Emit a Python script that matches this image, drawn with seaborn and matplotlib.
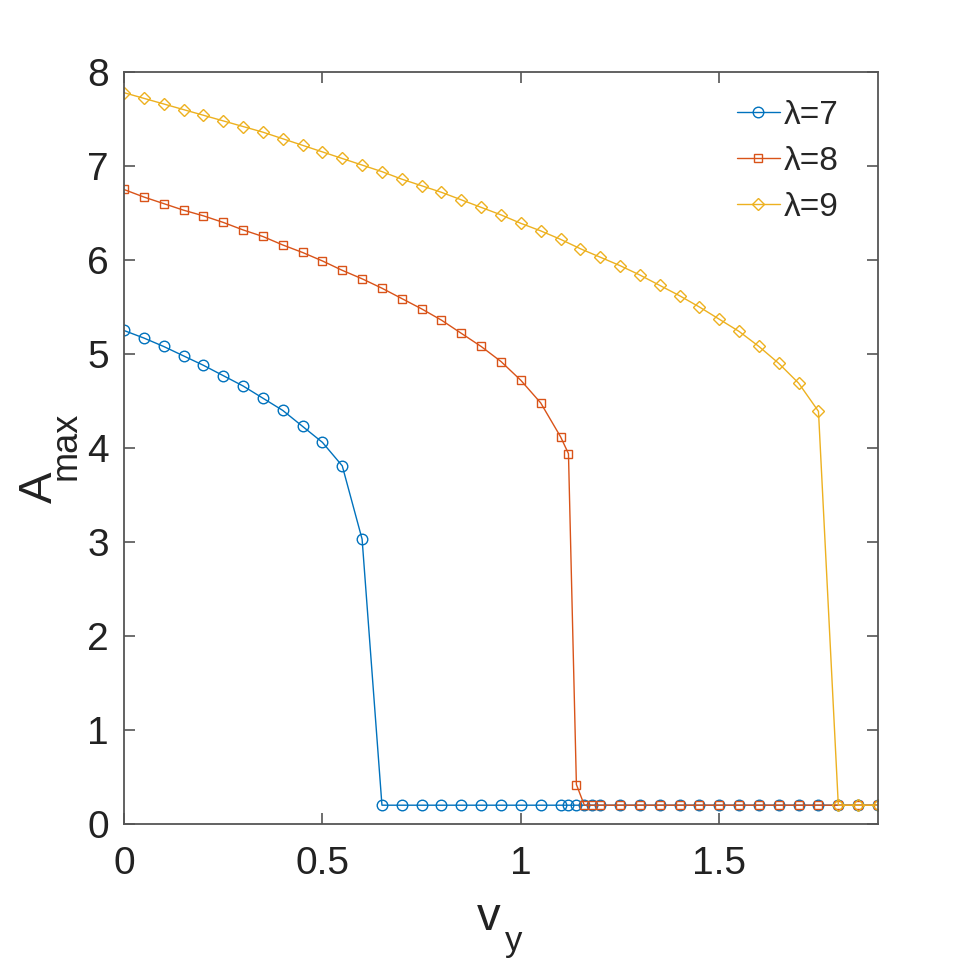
import numpy as np
import pandas as pd
import seaborn as sns
import matplotlib
matplotlib.use("Agg")
import matplotlib.pyplot as plt

# x grids (lambda=7 and 8 are refined near 1.12-1.2)
v_fine = [0.00, 0.05, 0.10, 0.15, 0.20, 0.25, 0.30, 0.35, 0.40, 0.45, 0.50,
          0.55, 0.60, 0.65, 0.70, 0.75, 0.80, 0.85, 0.90, 0.95, 1.00, 1.05,
          1.10, 1.12, 1.14, 1.16, 1.18, 1.20, 1.25, 1.30, 1.35, 1.40, 1.45,
          1.50, 1.55, 1.60, 1.65, 1.70, 1.75, 1.80, 1.85, 1.90]
v_coarse = [0.00, 0.05, 0.10, 0.15, 0.20, 0.25, 0.30, 0.35, 0.40, 0.45, 0.50,
            0.55, 0.60, 0.65, 0.70, 0.75, 0.80, 0.85, 0.90, 0.95, 1.00, 1.05,
            1.10, 1.15, 1.20, 1.25, 1.30, 1.35, 1.40, 1.45, 1.50, 1.55, 1.60,
            1.65, 1.70, 1.75, 1.80, 1.85, 1.90]

a_lam7 = [5.25, 5.17, 5.08, 4.98, 4.88, 4.77, 4.66, 4.53, 4.40, 4.23, 4.06,
          3.81, 3.03, 0.20, 0.20, 0.20, 0.20, 0.20, 0.20, 0.20, 0.20, 0.20,
          0.20, 0.20, 0.20, 0.20, 0.20, 0.20, 0.20, 0.20, 0.20, 0.20, 0.20,
          0.20, 0.20, 0.20, 0.20, 0.20, 0.20, 0.20, 0.20, 0.20]
a_lam8 = [6.75, 6.67, 6.60, 6.53, 6.47, 6.40, 6.32, 6.25, 6.16, 6.08, 5.99,
          5.89, 5.80, 5.70, 5.59, 5.48, 5.36, 5.22, 5.08, 4.92, 4.72, 4.48,
          4.12, 3.94, 0.42, 0.20, 0.20, 0.20, 0.20, 0.20, 0.20, 0.20, 0.20,
          0.20, 0.20, 0.20, 0.20, 0.20, 0.20, 0.20, 0.20, 0.20]
a_lam9 = [7.78, 7.72, 7.66, 7.60, 7.54, 7.48, 7.42, 7.36, 7.29, 7.22, 7.15,
          7.08, 7.01, 6.94, 6.86, 6.79, 6.72, 6.64, 6.56, 6.48, 6.39, 6.31,
          6.22, 6.12, 6.03, 5.94, 5.84, 5.73, 5.62, 5.50, 5.37, 5.24, 5.08,
          4.90, 4.69, 4.39, 0.20, 0.20, 0.20]

labels = ["λ=7", "λ=8", "λ=9"]
colors = ["#0072BD", "#D95319", "#EDB120"]

sns.set_style("ticks")
plt.rcParams["font.family"] = ["Liberation Sans", "DejaVu Sans"]

W, H = 971, 963
fig = plt.figure(figsize=(W / 100, H / 100), dpi=100)
ax = fig.add_axes([124 / W, 1 - 824 / H, (878 - 124) / W, (824 - 72) / H])

series = [(v_fine, a_lam7, "o", 7.6), (v_fine, a_lam8, "s", 6.4), (v_coarse, a_lam9, "D", 6.3)]
for (vx, ay, mk, ms), lab, col in zip(series, labels, colors):
    df = pd.DataFrame({"v": vx, "A": ay})
    sns.lineplot(data=df, x="v", y="A", ax=ax, sort=False, errorbar=None,
                 color=col, linewidth=1.0, marker=mk, markersize=ms,
                 markerfacecolor="none", markeredgecolor=col, markeredgewidth=1.0,
                 label=lab)

ax.set_xlim(0, 1.9)
ax.set_ylim(0, 8)
ax.set_xticks([0, 0.5, 1, 1.5])
ax.set_xticklabels(["0", "0.5", "1", "1.5"])
ax.set_yticks(range(0, 9))

for s in ax.spines.values():
    s.set_visible(True)
    s.set_color("#555555")
    s.set_linewidth(1.3)
ax.tick_params(direction="in", length=8, width=1.2, color="#555555",
               top=True, right=True, labelsize=28, labelcolor="#222222")
ax.tick_params(axis="y", pad=11)
ax.tick_params(axis="x", pad=16)
ax.set_xlabel("")
ax.set_ylabel("")

# axis labels with MATLAB-like subscripts
txt = dict(color="#222222", rotation_mode="anchor", ha="left", va="baseline")
fig.text(477 / W, 1 - 930 / H, "v", fontsize=34, **txt)
fig.text(505 / W, 1 - 951 / H, "y", fontsize=25, **txt)
fig.text(52 / W, 1 - 503 / H, "A", fontsize=34, rotation=90, **txt)
fig.text(76 / W, 1 - 480 / H, "max", fontsize=26, rotation=90, **txt)

ax.legend(loc="upper left", bbox_to_anchor=(730 / W, 1 - 93 / H),
          bbox_transform=fig.transFigure, frameon=False, fontsize=24,
          handlelength=1.3, handletextpad=0.1, labelspacing=0.45,
          borderpad=0.2, borderaxespad=0)

fig.savefig("out.png", dpi=100)
